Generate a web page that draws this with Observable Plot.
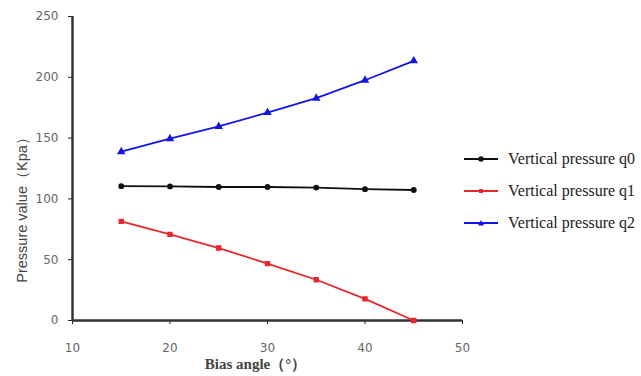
<!DOCTYPE html>
<html><head><meta charset="utf-8">
<script src="https://cdn.jsdelivr.net/npm/d3@7"></script>
<script src="https://cdn.jsdelivr.net/npm/@observablehq/plot@0.6"></script>
<style>
body{margin:0;background:#fff;}
#wrap{position:relative;width:641px;height:376px;overflow:hidden;}
#legend{position:absolute;left:464px;top:143px;font-family:"Liberation Serif",serif;font-size:16px;color:#222;white-space:nowrap;}
#legend div{display:flex;align-items:center;height:32px;}
#legend svg{margin-right:10px;}
</style>
</head><body>
<div id="wrap"><div id="chart"></div><div id="legend"></div></div>
<script>
const angles = [15, 20, 25, 30, 35, 40, 45];
const q0 = [110.5, 110.3, 109.8, 109.8, 109.3, 108, 107.3];
const q1 = [81.5, 70.8, 59.6, 46.8, 33.5, 17.8, 0];
const q2 = [138.8, 149.5, 159.6, 171, 182.8, 197.6, 213.5];
const seriesNames = ["Vertical pressure q0", "Vertical pressure q1", "Vertical pressure q2"];
const seriesColors = ["#111111", "#e8262e", "#1414e6"];
const seriesSymbols = ["circle", "square", "triangle"];
const xTicks = [10, 20, 30, 40, 50];
const yTicks = [0, 50, 100, 150, 200, 250];

const values = [q0, q1, q2];
const data = [];
values.forEach((vals, si) => angles.forEach((a, i) => data.push({angle: a, value: vals[i], series: seriesNames[si]})));

const chart = Plot.plot({
  width: 641, height: 376,
  marginLeft: 72, marginRight: 179, marginTop: 16, marginBottom: 56,
  style: {fontFamily: "DejaVu Sans, sans-serif", fontSize: "12px", color: "#666", background: "#fff"},
  x: {domain: [10, 50], ticks: xTicks},
  y: {domain: [0, 250], ticks: yTicks},
  color: {domain: seriesNames, range: seriesColors},
  symbol: {domain: seriesNames, range: seriesSymbols},
  marks: [
    Plot.axisX({ticks: xTicks, tickSize: 4, tickPadding: 19, label: null, stroke: "#222", fill: "#666"}),
    Plot.axisY({ticks: yTicks, tickSize: 4, tickPadding: 10, label: null, stroke: "#222", fill: "#666"}),
    Plot.ruleY([0], {stroke: "#333", strokeWidth: 2.5}),
    Plot.ruleX([10], {stroke: "#333", strokeWidth: 2.5}),
    Plot.line(data, {x: "angle", y: "value", z: "series", stroke: "series", strokeWidth: 1.8}),
    Plot.dot(data, {x: "angle", y: "value", fill: "series", stroke: "series", symbol: "series", r: 2.2}),
    Plot.text(["Bias angle（°）"], {frameAnchor: "bottom", dx: -12, dy: 48, fontFamily: "Liberation Serif, serif", fontWeight: "bold", fontSize: 15, fill: "#444"}),
    Plot.text(["Pressure value（Kpa）"], {frameAnchor: "left", textAnchor: "middle", dx: -50, dy: 38, rotate: -90, fontFamily: "Liberation Sans, sans-serif", fontSize: 14.5, fill: "#444"})
  ]
});
document.getElementById("chart").appendChild(chart);

const legend = document.getElementById("legend");
const shapes = {
  circle: c => `<circle cx="17" cy="6" r="2.8" fill="${c}"/>`,
  square: c => `<rect x="15" y="4" width="4" height="4" fill="${c}"/>`,
  triangle: c => `<path d="M17,3 L20,8.5 L14,8.5 Z" fill="${c}"/>`
};
seriesNames.forEach((n, i) => {
  const d = document.createElement("div");
  d.innerHTML = `<svg width="34" height="12"><line x1="0" y1="6" x2="34" y2="6" stroke="${seriesColors[i]}" stroke-width="2"/>${shapes[seriesSymbols[i]](seriesColors[i])}</svg><span>${n}</span>`;
  legend.appendChild(d);
});
</script>
</body></html>
